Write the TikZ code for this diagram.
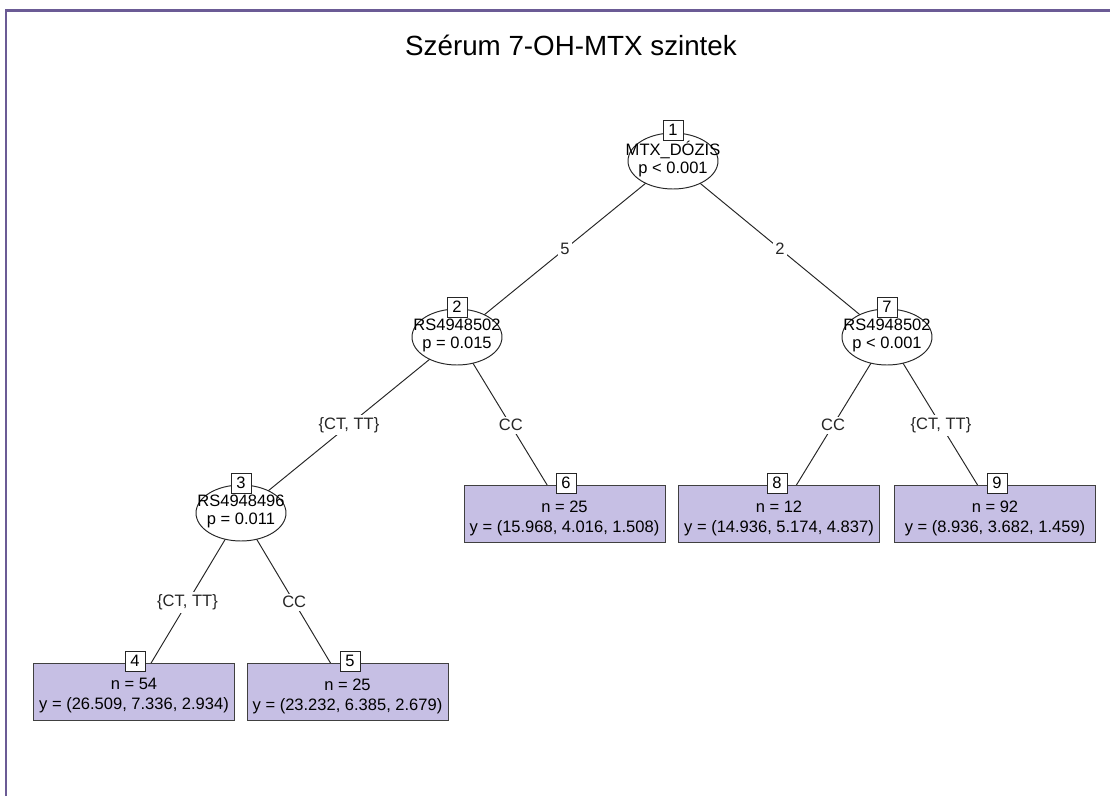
\documentclass[tikz,border=0pt]{standalone}
\usepackage{fontspec}
\setmainfont{Liberation Sans}
\usetikzlibrary{shapes.geometric,positioning}
\definecolor{treelilac}{HTML}{C6BFE4}
\definecolor{treeframe}{HTML}{6B5B95}
\pgfdeclarelayer{background}
\pgfsetlayers{background,main}

\begin{document}
\begin{tikzpicture}[x=.02cm,y=-.02cm,
  innernode/.style={ellipse,draw=black!85,fill=white,line width=.55pt,minimum width=1.8cm,minimum height=1.12cm,inner sep=0pt},
  termnode/.style={rectangle,draw=black!75,fill=treelilac,line width=.55pt,minimum width=4.02cm,minimum height=1.14cm,inner sep=0pt},
  idbox/.style={rectangle,draw=black!85,fill=white,line width=.55pt,minimum size=.4cm,inner sep=0pt,font=\fontsize{9.4}{11.4}\selectfont},
  vartxt/.style={align=center,inner sep=0pt,font=\fontsize{9.4}{10.3}\selectfont},
  termtxt/.style={align=center,inner sep=0pt,font=\fontsize{9.4}{11.4}\selectfont},
  edgelab/.style={fill=white,inner sep=1.5pt,font=\fontsize{9.4}{11.4}\selectfont},
  treeedge/.style={black!85,line width=.55pt}]
\useasboundingbox (0,0) rectangle (1110,796);
\draw[treeframe,line width=1.7pt] (6,796) -- (6,10) -- (1110,10);
\node[font=\fontsize{15.8}{18}\selectfont] (title) at (571,45) {Szérum 7-OH-MTX szintek};

% inner nodes
\node[innernode] (n1) at (673,161) {};
\node[vartxt] (n1txt) at (673,159) {MTX\_DÓZIS\\p < 0.001};
\node[idbox] (n1id) at (673,130) {1};
\node[innernode] (n2) at (457,337) {};
\node[vartxt] (n2txt) at (457,335) {RS4948502\\p = 0.015};
\node[idbox] (n2id) at (457,307) {2};
\node[innernode] (n7) at (887,337) {};
\node[vartxt] (n7txt) at (887,335) {RS4948502\\p < 0.001};
\node[idbox] (n7id) at (887,307) {7};
\node[innernode] (n3) at (241,513) {};
\node[vartxt] (n3txt) at (241,511) {RS4948496\\p = 0.011};
\node[idbox] (n3id) at (241,483) {3};

% terminal nodes
\node[termnode] (n6) at (564.5,513.5) {};
\node[termtxt] (n6txt) at (564.5,518) {n = 25\\y = (15.968, 4.016, 1.508)};
\node[idbox] (n6id) at (566,483) {6};
\node[termnode] (n8) at (779,513.5) {};
\node[termtxt] (n8txt) at (779,518) {n = 12\\y = (14.936, 5.174, 4.837)};
\node[idbox] (n8id) at (777,483) {8};
\node[termnode] (n9) at (995,513.5) {};
\node[termtxt] (n9txt) at (995,518) {n = 92\\y = (8.936, 3.682, 1.459)};
\node[idbox] (n9id) at (997,483) {9};
\node[termnode] (n4) at (134,691.5) {};
\node[termtxt] (n4txt) at (134,696) {n = 54\\y = (26.509, 7.336, 2.934)};
\node[idbox] (n4id) at (135,661) {4};
\node[termnode] (n5) at (347.5,691.5) {};
\node[termtxt] (n5txt) at (347.5,696) {n = 25\\y = (23.232, 6.385, 2.679)};
\node[idbox] (n5id) at (350,661) {5};

\begin{pgfonlayer}{background}
\draw[treeedge] (n1.center) -- node[edgelab] (l12) {5} (n2.center);
\draw[treeedge] (n1.center) -- node[edgelab] (l17) {2} (n7.center);
\draw[treeedge] (n2.center) -- node[edgelab] (l23) {\{CT, TT\}} (n3.center);
\draw[treeedge] (n2.center) -- node[edgelab] (l26) {CC} (n6.center);
\draw[treeedge] (n7.center) -- node[edgelab] (l78) {CC} (n8.center);
\draw[treeedge] (n7.center) -- node[edgelab] (l79) {\{CT, TT\}} (n9.center);
\draw[treeedge] (n3.center) -- node[edgelab] (l34) {\{CT, TT\}} (n4.center);
\draw[treeedge] (n3.center) -- node[edgelab] (l35) {CC} (n5.center);
\end{pgfonlayer}
\end{tikzpicture}
\end{document}
